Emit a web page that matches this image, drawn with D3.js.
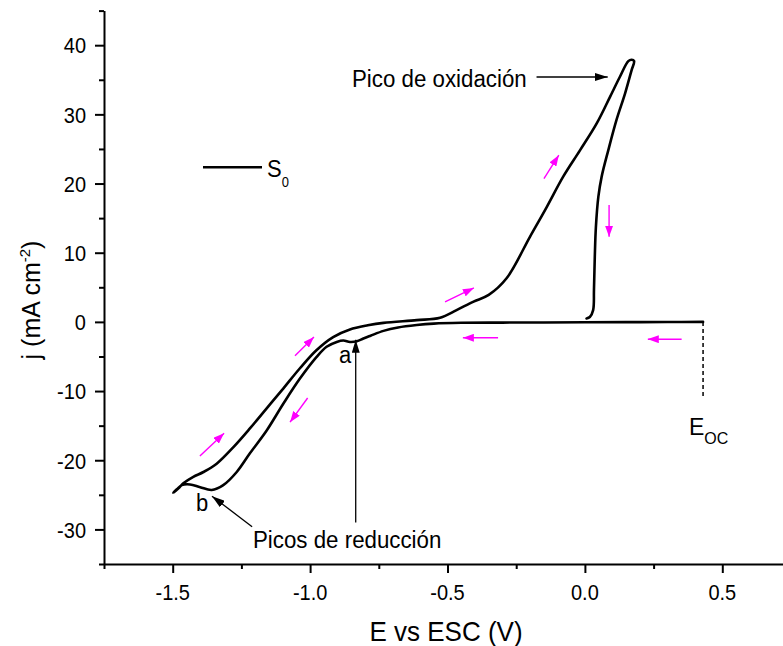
<!DOCTYPE html>
<html>
<head>
<meta charset="utf-8">
<script src="https://cdn.jsdelivr.net/npm/d3@7/dist/d3.min.js"></script>
<style>
  html, body { margin: 0; padding: 0; background: #fff; }
  svg { display: block; font-family: "Liberation Sans", Arial, sans-serif; }
</style>
</head>
<body>
<svg id="chart" width="783" height="646"></svg>
<script>
// Cyclic voltammogram of sample S0: potential E (V vs ESC) and current density j (mA cm^-2),
// traced from the open-circuit potential toward negative potentials and back.
const potential = [
  0.43, 0.30, 0.15, 0.00, -0.15, -0.30, -0.45, -0.55, -0.612, -0.68, -0.733, -0.78, -0.806,
  -0.83, -0.855, -0.879, -0.903, -0.94, -0.977, -1.037, -1.097, -1.158, -1.219, -1.267,
  -1.316, -1.358, -1.40, -1.437, -1.467, -1.485, -1.498,
  -1.475, -1.46, -1.425, -1.388, -1.34, -1.279, -1.219, -1.158, -1.097, -1.037, -0.977,
  -0.916, -0.855, -0.79, -0.733, -0.612, -0.527, -0.467, -0.407, -0.35, -0.285, -0.20,
  -0.139, -0.079, -0.018, 0.043, 0.091, 0.127, 0.158, 0.170, 0.179,
  0.17, 0.146, 0.115, 0.085, 0.061, 0.049, 0.040, 0.036, 0.033, 0.030, 0.018, 0.006
];
const currentDensity = [
  0.0, -0.02, -0.04, -0.06, -0.08, -0.10, -0.13, -0.25, -0.45, -0.8, -1.3, -2.0, -2.4,
  -2.8, -2.9, -2.7, -2.9, -3.6, -5.1, -8.2, -11.8, -15.7, -19.0, -21.7,
  -23.6, -24.3, -23.9, -23.5, -23.6, -24.2, -24.7,
  -23.9, -23.3, -22.4, -21.7, -20.5, -18.1, -15.4, -12.5, -9.6, -6.7, -4.1,
  -2.2, -1.1, -0.5, -0.14, 0.25, 0.6, 1.7, 2.9, 3.9, 6.3, 12.3,
  16.6, 21.0, 24.8, 28.7, 32.5, 35.4, 37.7, 37.9, 37.7,
  36.4, 33.0, 29.2, 24.8, 21.0, 18.1, 13.7, 9.4, 4.6, 1.7, 0.7, 0.5
];

// Axis ticks
const xMajorTicks = [-1.5, -1.0, -0.5, 0.0, 0.5];
const xMinorTicks = [-1.75, -1.25, -0.75, -0.25, 0.25, 0.75];
const yMajorTicks = [-30, -20, -10, 0, 10, 20, 30, 40];
const yMinorTicks = [-35, -25, -15, -5, 5, 15, 25, 35, 45];

// Scan-direction arrows: [E tail, j tail, E head, j head]
const scanArrows = [
  [-1.401, -19.4, -1.313, -16.1],
  [-1.055, -4.9, -0.986, -2.2],
  [-1.009, -11.0, -1.073, -14.5],
  [-0.509, 2.9, -0.404, 4.9],
  [-0.149, 20.7, -0.095, 24.1],
  [0.088, 16.9, 0.088, 12.3],
  [-0.316, -2.3, -0.444, -2.3],
  [0.352, -2.5, 0.229, -2.5]
];
// Pointer arrows for the peaks: [E tail, j tail, E head, j head]
const peakPointers = [
  [-0.176, 35.4, 0.083, 35.4],
  [-0.834, -29.0, -0.834, -2.6],
  [-1.211, -29.6, -1.357, -25.2]
];
const eOC = 0.43;

const svg = d3.select("#chart");
const x = d3.scaleLinear().domain([-1.75, 0.75]).range([104, 791]);
const y = d3.scaleLinear().domain([-35, 45]).range([564, 10.6]);

const defs = svg.append("defs");
function marker(id, color, w, h) {
  defs.append("marker")
    .attr("id", id).attr("viewBox", `0 0 ${w} ${h}`)
    .attr("refX", w).attr("refY", h / 2)
    .attr("markerWidth", w).attr("markerHeight", h)
    .attr("markerUnits", "userSpaceOnUse")
    .attr("orient", "auto")
    .append("path").attr("d", `M0,0L${w},${h / 2}L0,${h}Z`).attr("fill", color);
}
marker("headBlack", "#000", 13, 8);
marker("headPink", "#ff00ff", 11, 8);

// Axes
svg.append("g").attr("transform", `translate(0,${y(-35)})`)
  .call(d3.axisBottom(x).tickValues(xMajorTicks).tickSize(9).tickSizeOuter(0).tickFormat(""));
svg.append("g").attr("transform", `translate(0,${y(-35)})`)
  .call(d3.axisBottom(x).tickValues(xMinorTicks).tickSize(5).tickSizeOuter(0).tickFormat(""))
  .select(".domain").remove();
svg.append("g").attr("transform", `translate(${x(-1.75)},0)`)
  .call(d3.axisLeft(y).tickValues(yMajorTicks).tickSize(9).tickSizeOuter(0).tickFormat(""));
svg.append("g").attr("transform", `translate(${x(-1.75)},0)`)
  .call(d3.axisLeft(y).tickValues(yMinorTicks).tickSize(5).tickSizeOuter(0).tickFormat(""))
  .select(".domain").remove();
svg.selectAll(".domain").attr("stroke", "#000").attr("stroke-width", 2);
svg.selectAll(".tick line").attr("stroke", "#000").attr("stroke-width", 2);

// Text helper with slight vertical stretch
function label(px, py, str, size, anchor, sy) {
  return svg.append("text")
    .attr("transform", `translate(${px},${py}) scale(1,${sy || 1})`)
    .attr("font-size", size).attr("text-anchor", anchor || "start")
    .attr("fill", "#000").text(str);
}

xMajorTicks.forEach(v => label(x(v), 600, v.toFixed(1), 20, "middle", 1.12));
yMajorTicks.forEach(v => label(86, y(v) + 8.3, String(v), 20, "end", 1.12));

label(446, 641, "E vs ESC (V)", 26, "middle", 1.08);

const yt = svg.append("text")
  .attr("transform", `translate(40,300) rotate(-90)`)
  .attr("font-size", 25).attr("text-anchor", "middle").attr("fill", "#000");
yt.append("tspan").text("j (mA cm");
yt.append("tspan").attr("font-size", 15).attr("dy", -10).text("-2");
yt.append("tspan").attr("dy", 10).text(")");

// Curve
const pts = potential.map((e, i) => [e, currentDensity[i]]);
svg.append("path")
  .datum(pts)
  .attr("fill", "none").attr("stroke", "#000").attr("stroke-width", 2.6)
  .attr("stroke-linejoin", "round").attr("stroke-linecap", "round")
  .attr("d", d3.line().x(d => x(d[0])).y(d => y(d[1])).curve(d3.curveCatmullRom.alpha(0.5)));

// Open-circuit potential marker
svg.append("line")
  .attr("x1", x(eOC)).attr("x2", x(eOC)).attr("y1", y(0)).attr("y2", y(-11))
  .attr("stroke", "#000").attr("stroke-width", 1.5).attr("stroke-dasharray", "4,3");
const eoc = label(689, 435, "E", 23, "start", 1.05);
eoc.append("tspan").attr("font-size", 16).attr("dy", 9).text("OC");

// Legend
svg.append("line").attr("x1", 203).attr("x2", 262).attr("y1", 167.3).attr("y2", 167.3)
  .attr("stroke", "#000").attr("stroke-width", 2.6);
const leg = label(267, 176.7, "S", 22, "start", 1.12);
leg.append("tspan").attr("font-size", 13).attr("dy", 9).text("0");

// Annotations
label(352, 87, "Pico de oxidación", 22.3, "start", 1.05);
label(253, 548, "Picos de reducción", 22.3, "start", 1.05);
label(339, 363, "a", 22, "start", 1.05);
label(196, 510.5, "b", 22, "start", 1.05);

svg.selectAll(".ptr").data(peakPointers).enter().append("line")
  .attr("x1", d => x(d[0])).attr("y1", d => y(d[1]))
  .attr("x2", d => x(d[2])).attr("y2", d => y(d[3]))
  .attr("stroke", "#000").attr("stroke-width", 1.3)
  .attr("marker-end", "url(#headBlack)");

svg.selectAll(".scan").data(scanArrows).enter().append("line")
  .attr("x1", d => x(d[0])).attr("y1", d => y(d[1]))
  .attr("x2", d => x(d[2])).attr("y2", d => y(d[3]))
  .attr("stroke", "#ff00ff").attr("stroke-width", 1.4)
  .attr("marker-end", "url(#headPink)");
</script>
</body>
</html>
